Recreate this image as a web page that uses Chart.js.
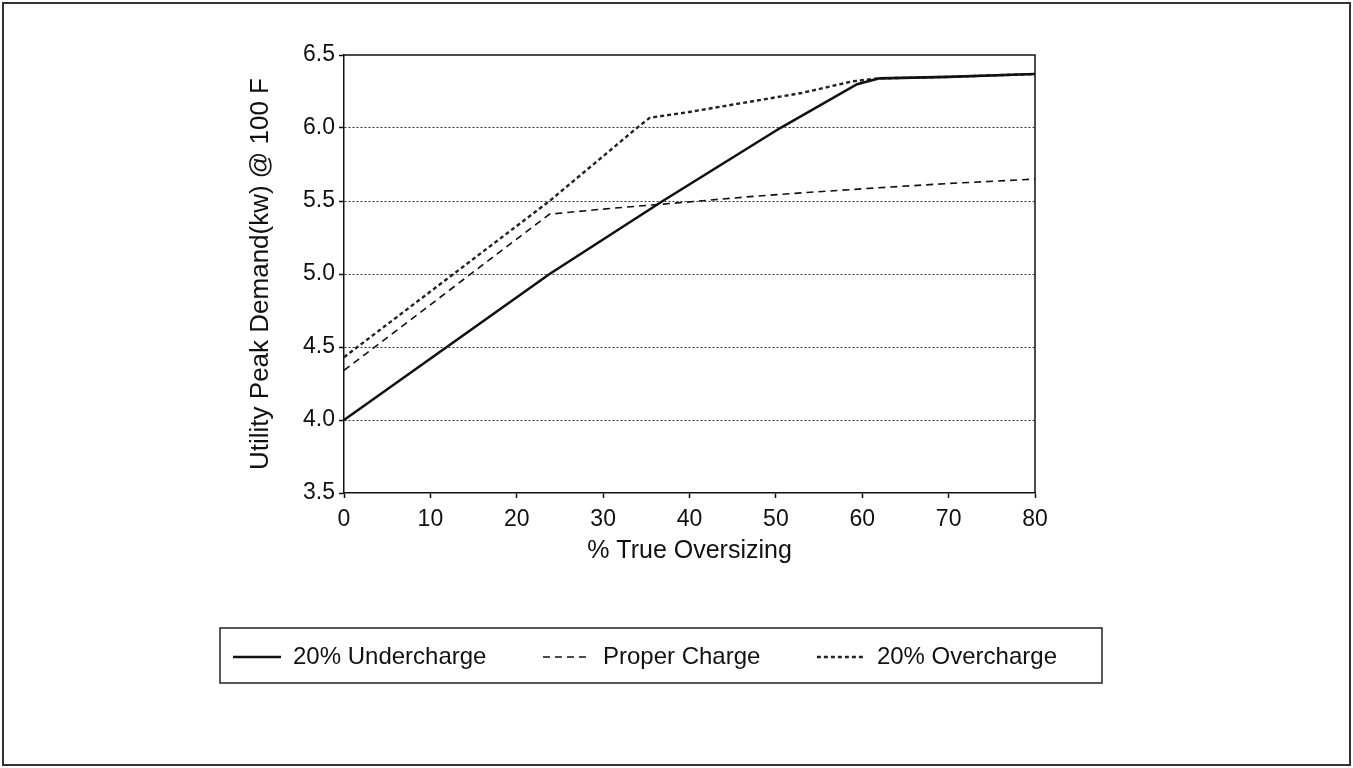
<!DOCTYPE html>
<html>
<head>
<meta charset="utf-8">
<script src="https://cdn.jsdelivr.net/npm/chart.js@4/dist/chart.umd.min.js"></script>
<style>
    html, body { margin: 0; padding: 0; background: #fff; }
    #chartBox { position: absolute; left: 0; top: 0; width: 1353px; height: 768px; }
</style>
</head>
<body>
<div id="chartBox"><canvas id="demandChart" width="1353" height="768"></canvas></div>
<script>
// values
const seriesNames = ['20% Undercharge', 'Proper Charge', '20% Overcharge'];

const underX = [0, 11.9, 23.8, 36.9, 50.5, 59.4, 62, 70, 80];
const underY = [4.0, 4.5, 5.0, 5.5, 6.0, 6.3, 6.34, 6.35, 6.37];

const properX = [0, 23.8, 31, 39.2, 47, 54, 61.7, 70, 80];
const properY = [4.34, 5.41, 5.45, 5.49, 5.53, 5.56, 5.59, 5.62, 5.65];

const overX = [0, 23.8, 33.9, 35.4, 40, 47, 53, 58.9, 62, 70, 80];
const overY = [4.43, 5.5, 6.0, 6.07, 6.11, 6.18, 6.24, 6.32, 6.34, 6.35, 6.37];

const xTicks = [0, 10, 20, 30, 40, 50, 60, 70, 80];
const yTicks = [3.5, 4.0, 4.5, 5.0, 5.5, 6.0, 6.5];

const FONT = '"Liberation Sans", Arial, Helvetica, sans-serif';
const INK = '#111';

function toPoints(xs, ys) {
    return xs.map((x, i) => ({ x: x, y: ys[i] }));
}

// frame around plot, box around legend, outer border of the page
const framePlugin = {
    id: 'frames',
    beforeDatasetsDraw(chart) {
        const a = chart.chartArea;
        const ctx = chart.ctx;
        ctx.save();
        ctx.strokeStyle = INK;
        ctx.lineWidth = 1.5;
        ctx.beginPath();
        ctx.moveTo(a.left, a.top);
        ctx.lineTo(a.right, a.top);
        ctx.lineTo(a.right, a.bottom);
        ctx.stroke();
        ctx.restore();
    },
    afterDraw(chart) {
        const ctx = chart.ctx;
        const boxes = chart.legend.legendHitBoxes;
        ctx.save();
        ctx.strokeStyle = '#222';
        ctx.lineWidth = 1.5;
        if (boxes && boxes.length) {
            const first = boxes[0];
            const last = boxes[boxes.length - 1];
            const left = first.left - 13;
            const right = last.left + last.width + 45;
            const top = first.top - 17;
            const bottom = first.top + first.height + 14;
            ctx.strokeRect(left, top, right - left, bottom - top);
        }
        ctx.lineWidth = 2;
        ctx.strokeStyle = '#333';
        ctx.strokeRect(3, 3, chart.width - 6, chart.height - 6);
        ctx.restore();
    }
};

document.addEventListener('DOMContentLoaded', function() {
    const ctx = document.getElementById('demandChart').getContext('2d');

    new Chart(ctx, {
        type: 'line',
        data: {
            datasets: [
                {
                    label: seriesNames[0],
                    data: toPoints(underX, underY),
                    borderColor: INK,
                    borderWidth: 2.6,
                    borderDash: []
                },
                {
                    label: seriesNames[1],
                    data: toPoints(properX, properY),
                    borderColor: INK,
                    borderWidth: 1.6,
                    borderDash: [7, 5]
                },
                {
                    label: seriesNames[2],
                    data: toPoints(overX, overY),
                    borderColor: '#222',
                    borderWidth: 2.4,
                    borderDash: [4, 3]
                }
            ]
        },
        options: {
            responsive: false,
            animation: false,
            devicePixelRatio: 1,
            elements: {
                point: { radius: 0 },
                line: { tension: 0, fill: false, backgroundColor: 'rgba(0,0,0,0)' }
            },
            layout: {
                padding: { left: 100, right: 163, top: 55, bottom: 89 }
            },
            plugins: {
                tooltip: { enabled: false },
                legend: {
                    position: 'bottom',
                    labels: {
                        color: INK,
                        font: { family: FONT, size: 24 },
                        usePointStyle: true,
                        pointStyle: 'line',
                        pointStyleWidth: 48,
                        padding: 56.5,
                        // keep the dash pattern of each line in the legend sample
                        generateLabels: chart => {
                            const items = Chart.defaults.plugins.legend.labels.generateLabels(chart);
                            items.forEach(item => {
                                const ds = chart.data.datasets[item.datasetIndex];
                                item.lineDash = ds.borderDash;
                                item.lineWidth = ds.borderWidth;
                                item.strokeStyle = ds.borderColor;
                                item.fillStyle = 'rgba(0,0,0,0)';
                                item.pointStyle = 'line';
                            });
                            return items;
                        }
                    }
                }
            },
            scales: {
                x: {
                    type: 'linear',
                    min: 0,
                    max: 80,
                    afterBuildTicks: scale => {
                        scale.ticks = xTicks.map(v => ({ value: v }));
                    },
                    afterFit: scale => { scale.height = 95.5; },
                    ticks: {
                        color: INK,
                        font: { family: FONT, size: 23 },
                        padding: 8,
                        maxRotation: 0
                    },
                    grid: {
                        drawOnChartArea: false,
                        tickLength: 5,
                        tickColor: INK,
                        tickWidth: 1.5
                    },
                    border: { display: true, color: INK, width: 1.5 },
                    title: {
                        display: true,
                        text: '% True Oversizing',
                        color: INK,
                        font: { family: FONT, size: 25 },
                        padding: { top: 0, bottom: 22 }
                    }
                },
                y: {
                    type: 'linear',
                    min: 3.5,
                    max: 6.5,
                    afterBuildTicks: scale => {
                        scale.ticks = yTicks.map(v => ({ value: v }));
                    },
                    afterFit: scale => { scale.width = 244; },
                    ticks: {
                        color: INK,
                        font: { family: FONT, size: 23 },
                        padding: 4,
                        callback: v => Number(v).toFixed(1)
                    },
                    grid: {
                        color: c => (c.tick && (c.tick.value === 3.5 || c.tick.value === 6.5)) ? 'rgba(0,0,0,0)' : '#333',
                        lineWidth: 1,
                        tickLength: 5,
                        tickColor: INK,
                        tickWidth: 1.5
                    },
                    border: { display: true, color: INK, width: 1.5, dash: [2, 2] },
                    title: {
                        display: true,
                        text: 'Utility Peak Demand(kw) @ 100 F',
                        color: INK,
                        font: { family: FONT, size: 26 },
                        padding: { top: 145.4, bottom: 0 }
                    }
                },
                // empty box on the right so the plot ends at 80 while the legend row stays wide
                ySpacer: {
                    type: 'linear',
                    position: 'right',
                    display: true,
                    ticks: { display: false },
                    grid: { display: false, drawTicks: false },
                    border: { display: false },
                    afterFit: scale => { scale.width = 155; }
                }
            }
        },
        plugins: [framePlugin]
    });
});
</script>
</body>
</html>
